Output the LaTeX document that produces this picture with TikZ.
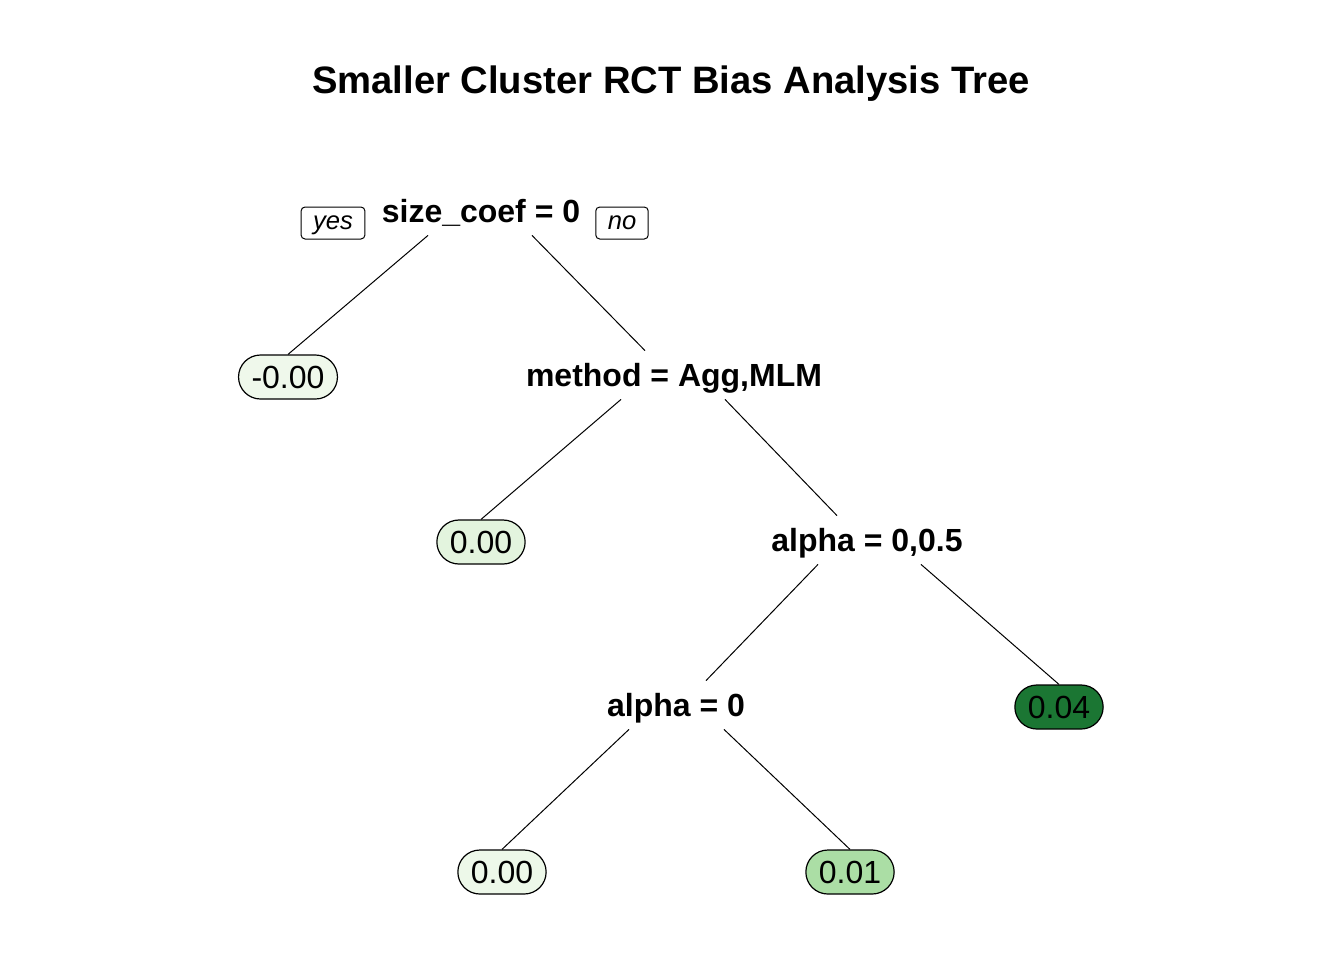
\documentclass[tikz,border=0pt]{standalone}
\usepackage{fontspec}
\setmainfont{Liberation Sans}
\usetikzlibrary{positioning}
\definecolor{leafneg}{HTML}{EFF8EB}
\definecolor{leafmid}{HTML}{E3F4DE}
\definecolor{leaflow}{HTML}{EDF8E9}
\definecolor{leafone}{HTML}{ABDEA5}
\definecolor{leaffour}{HTML}{1B7633}
\tikzstyle{split} = [rectangle, minimum height=24pt, inner sep=0pt, text height=11.5pt, text depth=0pt, font=\fontsize{16}{19}\selectfont\bfseries]
\tikzstyle{leaf} = [rectangle, rounded corners=11pt, minimum height=22pt, inner xsep=6.5pt, inner ysep=0pt, draw=black, line width=0.6pt, font=\fontsize{16}{19}\selectfont]
\tikzstyle{answer} = [rectangle, rounded corners=2pt, minimum height=16pt, inner xsep=6pt, inner ysep=0pt, text height=6.6pt, text depth=0pt, draw=black, line width=0.5pt, font=\fontsize{12.8}{15}\selectfont\itshape]
\tikzstyle{branch} = [line width=0.5pt]

\begin{document}
\begin{tikzpicture}[x=0.5pt,y=-0.5pt]
			\useasboundingbox (0,0) rectangle (1344,960);
			\node (title) at (671,84) [font=\fontsize{19.1}{23}\selectfont\bfseries] {Smaller Cluster RCT Bias Analysis Tree};
			
			\node (root) at (481,211) [split] {size\_coef = 0};
			\node (yes) at (333,223) [answer] {yes};
			\node (no) at (622,223) [answer] {no};
			\node (neg) at (288,377) [leaf,fill=leafneg] {-0.00};
			\node (method) at (674,375) [split] {method = Agg,MLM};
			\node (mid) at (481,542) [leaf,fill=leafmid] {0.00};
			\node (alphaA) at (867,540) [split] {alpha = 0,0.5};
			\node (alphaB) at (676,705) [split] {alpha = 0};
			\node (four) at (1059,707) [leaf,fill=leaffour] {0.04};
			\node (low) at (502,872) [leaf,fill=leaflow] {0.00};
			\node (one) at (850,872) [leaf,fill=leafone] {0.01};
			
			\draw [branch] ([xshift=-26.5pt]root.south) -- (neg.north);
			\draw [branch] ([xshift=25.5pt]root.south) -- ([xshift=-14.5pt]method.north);
			\draw [branch] ([xshift=-26.5pt]method.south) -- (mid.north);
			\draw [branch] ([xshift=25.5pt]method.south) -- ([xshift=-15pt]alphaA.north);
			\draw [branch] ([xshift=-24.5pt]alphaA.south) -- ([xshift=15pt]alphaB.north);
			\draw [branch] ([xshift=27pt]alphaA.south) -- (four.north);
			\draw [branch] ([xshift=-23.5pt]alphaB.south) -- (low.north);
			\draw [branch] ([xshift=24pt]alphaB.south) -- (one.north);
			\end{tikzpicture}
\end{document}
